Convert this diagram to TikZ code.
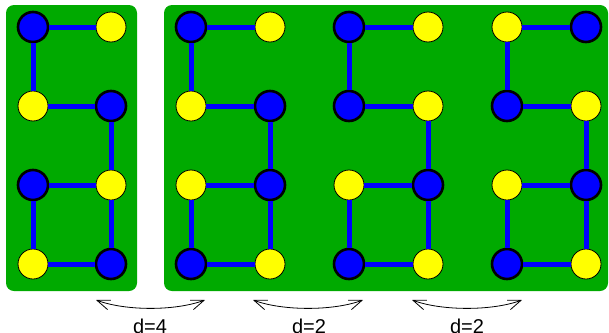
\documentclass[tikz,border=0pt]{standalone}
\usepackage{fontspec}
\setmainfont{Liberation Sans}
\usetikzlibrary{arrows.meta}

\definecolor{panelgreen}{RGB}{0,170,0}
\definecolor{nodeblue}{RGB}{0,0,255}
\definecolor{nodeyellow}{RGB}{255,255,0}

\tikzset{
  panel/.style={fill=panelgreen, draw=none, rounded corners=8pt},
  bnode/.style={circle, fill=nodeblue, draw=black, line width=2.6pt,
                minimum size=30pt, inner sep=0pt},
  ynode/.style={circle, fill=nodeyellow, draw=black, line width=0.8pt,
                minimum size=30pt, inner sep=0pt},
  link/.style={draw=nodeblue, line width=5pt},
  swapping/.style={draw=black, line width=0.8pt,
                   {Straight Barb[length=13pt,width=10pt]}-{Straight Barb[length=13pt,width=10pt]}},
  dlabel/.style={font=\fontsize{20}{24}\selectfont, anchor=base, inner sep=0pt}
}

% One ladder of eight nodes: #1 name prefix, #2 left column x, #3 right column x,
% #4 list of row/left-style/right-style
\newcommand{\ladder}[4]{%
  \foreach \r/\sl/\sr in {#4}{
    \node[\sl] (#1-\r-l) at (#2,{27+(\r-1)*79}) {};
    \node[\sr] (#1-\r-r) at (#3,{27+(\r-1)*79}) {};
  }
  \draw[link] (#1-1-l) -- (#1-1-r);
  \draw[link] (#1-1-l) -- (#1-2-l);
  \draw[link] (#1-2-l) -- (#1-2-r);
  \draw[link] (#1-2-r) -- (#1-3-r);
  \draw[link] (#1-3-l) -- (#1-3-r);
  \draw[link] (#1-3-l) -- (#1-4-l);
  \draw[link] (#1-4-l) -- (#1-4-r);
  \draw[link] (#1-4-r) -- (#1-3-r);
}

\begin{document}
\begin{tikzpicture}[x=1pt, y=-1pt]
  \useasboundingbox (0,0) rectangle (609,332);

  % green panels
  \path[panel] (6,5) rectangle (137,291);
  \path[panel] (164,5) rectangle (608,291);

  % ladders
  \ladder{a}{33}{111}{1/bnode/ynode, 2/ynode/bnode, 3/bnode/ynode, 4/ynode/bnode}
  \ladder{b}{191}{270}{1/bnode/ynode, 2/ynode/bnode, 3/ynode/bnode, 4/bnode/ynode}
  \ladder{c}{349}{428}{1/bnode/ynode, 2/bnode/ynode, 3/ynode/bnode, 4/bnode/ynode}
  \ladder{d}{507}{586}{1/ynode/bnode, 2/bnode/ynode, 3/ynode/bnode, 4/bnode/ynode}

  % swap arrows with distances
  \coordinate (s1a) at (96,300);  \coordinate (s1b) at (205,300);
  \coordinate (s2a) at (253,300); \coordinate (s2b) at (363,300);
  \coordinate (s3a) at (412,300); \coordinate (s3b) at (522,300);
  \draw[swapping] (s1a) .. controls +(30,11) and +(-30,11) .. (s1b);
  \draw[swapping] (s2a) .. controls +(30,11) and +(-30,11) .. (s2b);
  \draw[swapping] (s3a) .. controls +(30,11) and +(-30,11) .. (s3b);

  \node[dlabel] (t1) at (150,333) {d=4};
  \node[dlabel] (t2) at (309,333) {d=2};
  \node[dlabel] (t3) at (467,333) {d=2};
\end{tikzpicture}
\end{document}
